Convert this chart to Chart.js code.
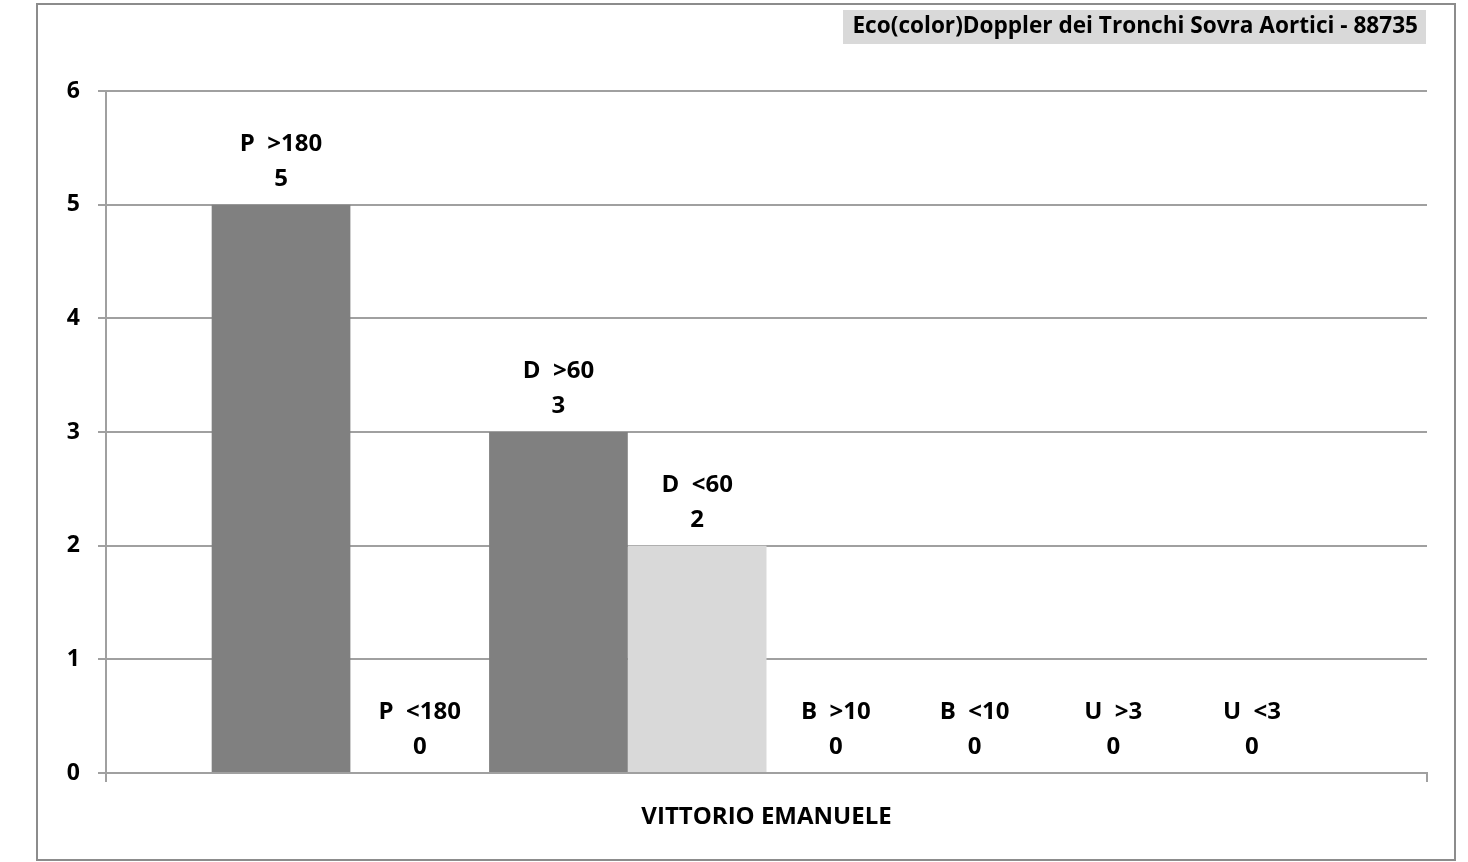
<!DOCTYPE html>
<html>
<head>
<meta charset="utf-8">
<script src="https://cdn.jsdelivr.net/npm/chart.js@4.4.1/dist/chart.umd.min.js"></script>
<style>
  html, body { margin: 0; padding: 0; background: #ffffff; }
  canvas { display: block; }
</style>
</head>
<body>
<canvas id="chart" width="1468" height="862"></canvas>
<script>
const CATEGORIES = ['VITTORIO EMANUELE'];
const SERIES_NAMES = ['P  >180', 'P  <180', 'D  >60', 'D  <60', 'B  >10', 'B  <10', 'U  >3', 'U  <3'];
const SERIES_VALUES = [5, 0, 3, 2, 0, 0, 0, 0];
const Y_TICKS = [0, 1, 2, 3, 4, 5, 6];
const CHART_TITLE = 'Eco(color)Doppler dei Tronchi Sovra Aortici - 88735';

const DARK_GREY = '#808080';
const LIGHT_GREY = '#d9d9d9';
const AXIS_GREY = '#a0a0a0';
const FONT_FAMILY = "'Open Sans', Lato, sans-serif";

const datasets = SERIES_NAMES.map((name, i) => ({
  label: name,
  data: [SERIES_VALUES[i]],
  backgroundColor: name.includes('>') ? DARK_GREY : LIGHT_GREY,
  borderWidth: 0,
}));

// frame round the whole picture + grey title box top right
const framePlugin = {
  id: 'frame',
  beforeDraw(chart) {
    const ctx = chart.ctx;
    ctx.save();
    ctx.fillStyle = '#ffffff';
    ctx.fillRect(0, 0, chart.width, chart.height);
    ctx.strokeStyle = '#8c8c8c';
    ctx.lineWidth = 2;
    ctx.strokeRect(37, 4, 1418, 856);
    ctx.fillStyle = LIGHT_GREY;
    ctx.fillRect(843, 10, 583, 34);
    ctx.fillStyle = '#000000';
    ctx.font = `bold 22.6px ${FONT_FAMILY}`;
    ctx.textAlign = 'right';
    ctx.textBaseline = 'middle';
    ctx.fillText(CHART_TITLE, 1418, 27);
    ctx.restore();
  }
};

// two-line label above each bar: series name, then value
const barLabelsPlugin = {
  id: 'barLabels',
  afterDatasetsDraw(chart) {
    const ctx = chart.ctx;
    ctx.save();
    ctx.fillStyle = '#000000';
    ctx.font = `bold 24px ${FONT_FAMILY}`;
    ctx.textAlign = 'center';
    ctx.textBaseline = 'middle';
    chart.data.datasets.forEach((ds, i) => {
      const bar = chart.getDatasetMeta(i).data[0];
      ctx.fillText(ds.label, bar.x, bar.y - 61);
      ctx.fillText(String(ds.data[0]), bar.x, bar.y - 26);
    });
    ctx.restore();
  }
};

const config = {
  type: 'bar',
  data: {
    labels: CATEGORIES,
    datasets: datasets,
  },
  options: {
    responsive: false,
    animation: false,
    categoryPercentage: 0.84,
    barPercentage: 1,
    layout: {
      padding: { left: 40, right: 41, top: 91, bottom: 0 }
    },
    plugins: {
      legend: { display: false },
      title: { display: false },
      tooltip: { enabled: false },
    },
    scales: {
      x: {
        afterFit(scale) { scale.height = 89; },
        grid: {
          drawOnChartArea: false,
          drawTicks: true,
          tickLength: 9,
          color: AXIS_GREY,
          lineWidth: 2,
        },
        border: { color: AXIS_GREY, width: 2 },
        ticks: {
          color: '#000000',
          padding: 21,
          font: { family: FONT_FAMILY, size: 24, weight: 'bold' },
        }
      },
      y: {
        min: 0,
        max: 6,
        afterFit(scale) { scale.width = 66; },
        afterBuildTicks(scale) { scale.ticks = Y_TICKS.map(v => ({ value: v })); },
        grid: {
          color: AXIS_GREY,
          lineWidth: 2,
          tickLength: 8,
        },
        border: { color: AXIS_GREY, width: 2 },
        ticks: {
          color: '#000000',
          padding: 18,
          font: { family: FONT_FAMILY, size: 23, weight: 'bold' },
        }
      }
    }
  },
  plugins: [framePlugin, barLabelsPlugin],
};

const chartCanvas = document.getElementById('chart');
const chart = new Chart(chartCanvas, config);
</script>
</body>
</html>
